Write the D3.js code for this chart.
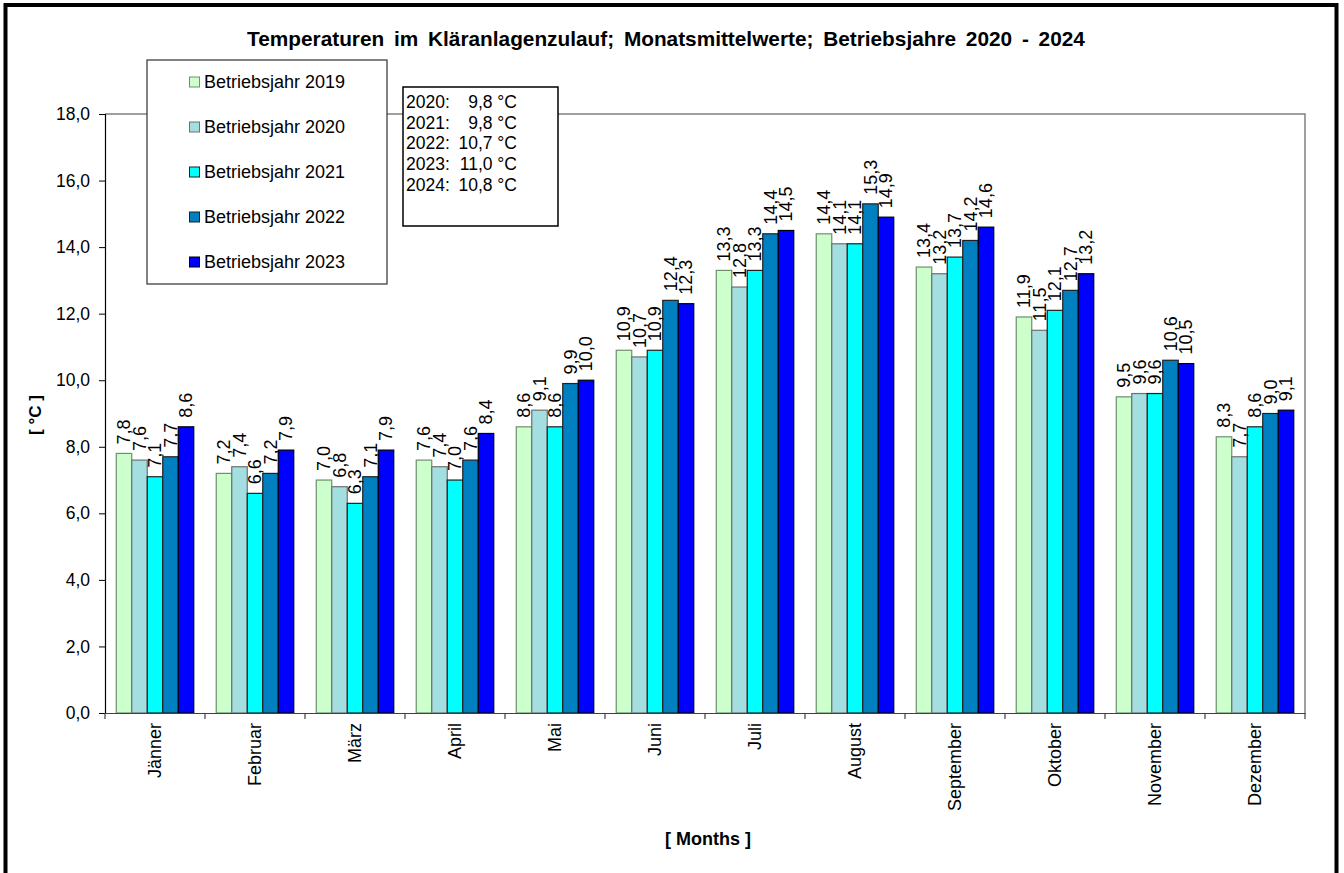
<!DOCTYPE html>
<html>
<head>
<meta charset="utf-8">
<script src="https://cdn.jsdelivr.net/npm/d3@7"></script>
<style>
  body { margin: 0; background: #fff; }
  text { font-family: Arial, "Liberation Sans", sans-serif; fill: #000; }
</style>
</head>
<body>
<div id="container"></div>
<script>
// data
var months = ["Jänner", "Februar", "März", "April", "Mai", "Juni", "Juli", "August", "September", "Oktober", "November", "Dezember"];
var years = ["Betriebsjahr 2019", "Betriebsjahr 2020", "Betriebsjahr 2021", "Betriebsjahr 2022", "Betriebsjahr 2023"];
var v2019 = [7.8, 7.2, 7.0, 7.6, 8.6, 10.9, 13.3, 14.4, 13.4, 11.9, 9.5, 8.3];
var v2020 = [7.6, 7.4, 6.8, 7.4, 9.1, 10.7, 12.8, 14.1, 13.2, 11.5, 9.6, 7.7];
var v2021 = [7.1, 6.6, 6.3, 7.0, 8.6, 10.9, 13.3, 14.1, 13.7, 12.1, 9.6, 8.6];
var v2022 = [7.7, 7.2, 7.1, 7.6, 9.9, 12.4, 14.4, 15.3, 14.2, 12.7, 10.6, 9.0];
var v2023 = [8.6, 7.9, 7.9, 8.4, 10.0, 12.3, 14.5, 14.9, 14.6, 13.2, 10.5, 9.1];
var yTicks = [0, 2, 4, 6, 8, 10, 12, 14, 16, 18];
var avgYears = ["2020:", "2021:", "2022:", "2023:", "2024:"];
var avgValues = [9.8, 9.8, 10.7, 11.0, 10.8];

var colors = ["#ccffcc", "#a3dfe0", "#00ffff", "#0080c0", "#0000ff"];
var strokes = ["#6f8f6f", "#707070", "#202020", "#202020", "#000"];
var series = [v2019, v2020, v2021, v2022, v2023];

var W = 1344, H = 873;
var fmt = function (v) { return d3.format(".1f")(v).replace(".", ","); };

function makeSVG(w, h) {
  return d3.select("#container").append("svg")
    .attr("width", w).attr("height", h)
    .attr("xmlns", "http://www.w3.org/2000/svg");
}

var svg = makeSVG(W, H);

// outer frame
svg.append("rect").attr("x", 5.5).attr("y", 5).attr("width", 1331).attr("height", 880)
  .attr("fill", "#fff").attr("stroke", "#000").attr("stroke-width", 4);

var plotL = 105, plotR = 1305, plotT = 114, plotB = 713;

var x0 = d3.scaleBand().domain(months).range([plotL, plotR])
  .paddingInner(0.225).paddingOuter(0.1125);
var x1 = d3.scaleBand().domain(d3.range(years.length)).range([0, x0.bandwidth()]);
var y = d3.scaleLinear().domain([0, 18]).range([plotB, plotT]);

// plot area border (top + right)
svg.append("path")
  .attr("d", "M" + plotL + "," + plotT + "H" + plotR + "V" + plotB)
  .attr("fill", "none").attr("stroke", "#808080").attr("stroke-width", 1.5);

// bars
var groups = svg.append("g").selectAll("g").data(months).join("g")
  .attr("transform", function (m) { return "translate(" + x0(m) + ",0)"; });

function rows(m, i) { return series.map(function (s, k) { return { k: k, v: s[i] }; }); }

groups.selectAll("rect").data(rows).join("rect")
  .attr("x", function (d) { return x1(d.k); })
  .attr("y", function (d) { return y(d.v); })
  .attr("width", x1.bandwidth())
  .attr("height", function (d) { return y(0) - y(d.v); })
  .attr("fill", function (d) { return colors[d.k]; })
  .attr("stroke", function (d) { return strokes[d.k]; })
  .attr("stroke-width", 1.2);

// value labels
groups.selectAll("text.val").data(rows).join("text").attr("class", "val")
  .attr("transform", function (d) {
    return "translate(" + (x1(d.k) + x1.bandwidth() / 2) + "," + (y(d.v) - 9) + ") rotate(-90)";
  })
  .attr("dy", "0.35em")
  .attr("font-size", "18px")
  .text(function (d) { return fmt(d.v); });

// y axis
var yAxis = svg.append("g").attr("transform", "translate(" + plotL + ",0)")
  .call(d3.axisLeft(y).tickValues(yTicks).tickSize(6).tickPadding(9).tickFormat(fmt));
yAxis.select(".domain").attr("stroke", "#000").attr("stroke-width", 1.2);
yAxis.selectAll("line").attr("stroke", "#000");
yAxis.selectAll("text").attr("font-size", "17.5px").attr("font-family", "Arial, 'Liberation Sans', sans-serif");

// x axis
var xAxis = svg.append("g").attr("transform", "translate(0," + plotB + ")")
  .call(d3.axisBottom(x0).tickSize(0).tickPadding(0));
xAxis.select(".domain").attr("stroke", "#404040").attr("stroke-width", 1.2);
xAxis.selectAll("text")
  .attr("font-size", "18px")
  .attr("font-family", "Arial, 'Liberation Sans', sans-serif")
  .attr("text-anchor", "end")
  .attr("transform", "translate(0,10) rotate(-90)")
  .attr("dy", "0.35em").attr("y", 0).attr("x", 0);

// x boundary ticks
var bounds = d3.range(months.length + 1).map(function (i) { return plotL + i * x0.step(); });
svg.append("g").selectAll("line").data(bounds).join("line")
  .attr("x1", function (d) { return d; }).attr("x2", function (d) { return d; })
  .attr("y1", plotB).attr("y2", plotB + 6)
  .attr("stroke", "#404040").attr("stroke-width", 1.2);

// title
svg.append("text").attr("x", 666).attr("y", 46).attr("text-anchor", "middle")
  .attr("font-size", "20.8px").attr("font-weight", "bold").attr("word-spacing", "4px")
  .text("Temperaturen im Kläranlagenzulauf; Monatsmittelwerte; Betriebsjahre 2020 - 2024");

// axis titles
svg.append("text").attr("transform", "translate(35,415) rotate(-90)")
  .attr("text-anchor", "middle").attr("dy", "0.35em")
  .attr("font-size", "17px").attr("font-weight", "bold").text("[ °C ]");
svg.append("text").attr("x", 708).attr("y", 845).attr("text-anchor", "middle")
  .attr("font-size", "18px").attr("font-weight", "bold").text("[ Months ]");

// legend
var lg = svg.append("g");
lg.append("rect").attr("x", 147).attr("y", 60).attr("width", 240).attr("height", 224)
  .attr("fill", "#fff").attr("stroke", "#303030").attr("stroke-width", 1.2);
var items = lg.selectAll("g.item").data(years).join("g").attr("class", "item")
  .attr("transform", function (d, i) { return "translate(189," + (82 + i * 45) + ")"; });
items.append("rect").attr("x", 0.5).attr("y", -5).attr("width", 10).attr("height", 10)
  .attr("fill", function (d, i) { return colors[i]; })
  .attr("stroke", function (d, i) { return strokes[i]; });
items.append("text").attr("x", 15).attr("dy", "0.35em").attr("font-size", "18px")
  .text(function (d) { return d; });

// annual averages box
var ab = svg.append("g");
ab.append("rect").attr("x", 403).attr("y", 87).attr("width", 155).attr("height", 139)
  .attr("fill", "#fff").attr("stroke", "#000").attr("stroke-width", 1.5);
ab.selectAll("text.yr").data(avgYears).join("text").attr("class", "yr")
  .attr("x", 406).attr("y", function (d, i) { return 108 + i * 20.7; })
  .attr("font-size", "17.5px").text(function (d) { return d; });
ab.selectAll("text.av").data(avgValues).join("text").attr("class", "av")
  .attr("x", 517).attr("y", function (d, i) { return 108 + i * 20.7; })
  .attr("text-anchor", "end").attr("font-size", "17.5px")
  .text(function (d) { return fmt(d) + " °C"; });
</script>
</body>
</html>
